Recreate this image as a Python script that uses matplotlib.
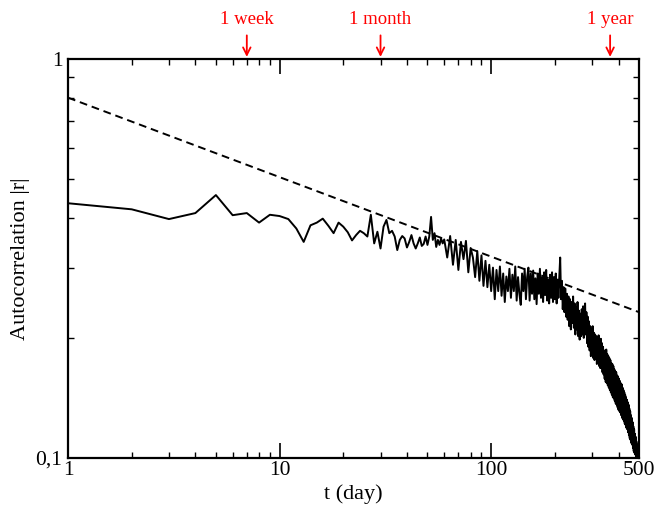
import numpy as np
import matplotlib
matplotlib.use("Agg")
import matplotlib.pyplot as plt
from matplotlib.ticker import FixedLocator, NullFormatter, LogLocator

plt.rcParams.update({
    "font.family": "serif", "font.serif": ["Liberation Serif", "DejaVu Serif"],
})

# ---- data ----
days_daily = np.arange(1, 61)
acf_daily = [0.435, 0.420, 0.397, 0.411, 0.456, 0.406, 0.411, 0.389, 0.407, 0.404,
             0.397, 0.376, 0.348, 0.383, 0.389, 0.398, 0.382, 0.366, 0.389, 0.380,
             0.368, 0.351, 0.362, 0.371, 0.366, 0.359, 0.407, 0.345, 0.369, 0.335,
             0.380, 0.395, 0.366, 0.371, 0.359, 0.332, 0.352, 0.360, 0.355, 0.337,
             0.348, 0.362, 0.345, 0.335, 0.345, 0.357, 0.340, 0.344, 0.359, 0.342,
             0.359, 0.402, 0.352, 0.366, 0.338, 0.352, 0.342, 0.355, 0.345, 0.353]

days_late = np.arange(62, 501, 2)
acf_late = [0.318, 0.360, 0.305, 0.352, 0.296, 0.348, 0.315, 0.350, 0.292, 0.336,
            0.318, 0.284, 0.330, 0.278, 0.322, 0.270, 0.312, 0.268, 0.305, 0.262,
            0.300, 0.250, 0.296, 0.262, 0.302, 0.255, 0.290, 0.246, 0.285, 0.262,
            0.298, 0.252, 0.288, 0.262, 0.302, 0.248, 0.284, 0.258, 0.242, 0.290,
            0.262, 0.298, 0.250, 0.284, 0.300, 0.248, 0.290, 0.258, 0.295, 0.250,
            0.282, 0.243, 0.290, 0.258, 0.298, 0.252, 0.284, 0.246, 0.292, 0.256,
            0.296, 0.248, 0.280, 0.244, 0.288, 0.252, 0.292, 0.246, 0.284, 0.250,
            0.290, 0.244, 0.280, 0.252, 0.286, 0.318, 0.250, 0.278, 0.236, 0.268,
            0.232, 0.266, 0.226, 0.258, 0.222, 0.254, 0.214, 0.250, 0.210, 0.246,
            0.218, 0.254, 0.212, 0.244, 0.204, 0.238, 0.210, 0.246, 0.202, 0.234,
            0.198, 0.230, 0.202, 0.236, 0.204, 0.240, 0.200, 0.232, 0.244, 0.204,
            0.232, 0.194, 0.226, 0.190, 0.220, 0.186, 0.214, 0.180, 0.210, 0.182,
            0.214, 0.178, 0.206, 0.176, 0.204, 0.177, 0.202, 0.172, 0.200, 0.174,
            0.203, 0.170, 0.196, 0.168, 0.199, 0.172, 0.194, 0.164, 0.190, 0.162,
            0.186, 0.158, 0.184, 0.155, 0.187, 0.154, 0.182, 0.152, 0.180, 0.150,
            0.178, 0.148, 0.176, 0.146, 0.173, 0.144, 0.172, 0.142, 0.170, 0.141,
            0.167, 0.139, 0.165, 0.137, 0.164, 0.136, 0.161, 0.134, 0.160, 0.132,
            0.158, 0.131, 0.156, 0.130, 0.154, 0.128, 0.153, 0.126, 0.150, 0.125,
            0.148, 0.124, 0.146, 0.122, 0.144, 0.121, 0.142, 0.119, 0.140, 0.118,
            0.138, 0.116, 0.136, 0.114, 0.133, 0.112, 0.131, 0.111, 0.128, 0.109,
            0.126, 0.108, 0.123, 0.106, 0.120, 0.104, 0.118, 0.103, 0.115, 0.102,
            0.113, 0.101, 0.110, 0.1005, 0.108, 0.1002, 0.106, 0.1001, 0.104, 0.1015]

# power-law guide (straight line on log-log), endpoints
fit_days = [1, 500]
fit_acf = [0.800, 0.232]

# markers on top axis
mark_days = [7, 30, 365]
mark_labels = ["1 week", "1 month", "1 year"]

days = np.concatenate([days_daily, days_late])
acf = np.concatenate([acf_daily, acf_late])

fig = plt.figure(figsize=(6.59, 5.09), dpi=100)
ax = fig.add_axes([0.1032, 0.1002, 0.8665, 0.7839])

ax.plot(fit_days, fit_acf, color="black", lw=1.4, linestyle=(0, (4, 2.5)))
ax.plot(days, acf, color="black", lw=1.4)

ax.set_xscale("log")
ax.set_yscale("log")
ax.set_xlim(1, 500)
ax.set_ylim(0.1, 1)

ax.xaxis.set_major_locator(FixedLocator([1, 10, 100, 500]))
ax.set_xticklabels(["1", "10", "100", "500"])
ax.xaxis.set_minor_locator(FixedLocator([2, 3, 4, 5, 6, 7, 8, 9, 20, 30, 40, 50, 60, 70, 80, 90, 200, 300, 400]))
ax.xaxis.set_minor_formatter(NullFormatter())
ax.yaxis.set_major_locator(FixedLocator([0.1, 1]))
ax.set_yticklabels(["0,1", "1"])
ax.yaxis.set_minor_locator(LogLocator(base=10, subs=np.arange(2, 10)))
ax.yaxis.set_minor_formatter(NullFormatter())

ax.tick_params(which="both", direction="in", top=True, right=True, labelsize=15.5, pad=2)
ax.tick_params(which="major", length=11, width=1.2)
ax.tick_params(which="minor", length=4.5, width=1.0)
ax.tick_params(axis="y", which="major", length=0, pad=4)
for s in ax.spines.values():
    s.set_linewidth(1.6)

ax.set_xlabel("t (day)", fontsize=16, labelpad=3)
ax.set_ylabel("Autocorrelation |r|", fontsize=16, labelpad=4)

for d, lab in zip(mark_days, mark_labels):
    ax.annotate(lab, xy=(d, 1.0), xycoords="data", xytext=(0, 22), textcoords="offset points",
                ha="center", va="bottom", color="red", fontsize=13.5, annotation_clip=False,
                arrowprops=dict(arrowstyle="->", color="red", lw=1.3, shrinkA=3, shrinkB=1.5))

fig.savefig("out.png", dpi=100, facecolor="white")
